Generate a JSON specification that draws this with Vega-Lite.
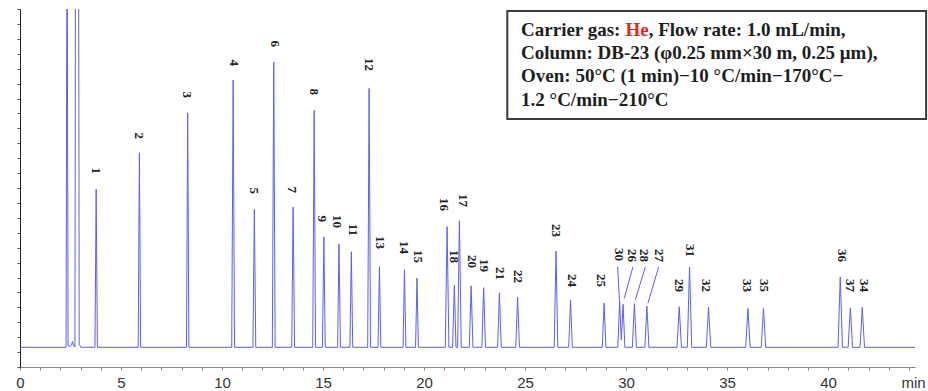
{
  "$schema": "https://vega.github.io/schema/vega-lite/v6.json",
  "width": 895,
  "height": 358,
  "autosize": {"type": "none"},
  "padding": {"left": 20, "top": 9, "right": 13, "bottom": 24},
  "background": "white",
  "config": {"view": {"stroke": null}},
  "datasets": {
    "trace": [
      {"t": 0, "s": 0.33}, {"t": 2.28, "s": 0.33}, {"t": 2.33, "s": 8}, {"t": 2.38, "s": 0.36},
      {"t": 2.48, "s": 0.34}, {"t": 2.55, "s": 0.37}, {"t": 2.6, "s": 0.43}, {"t": 2.66, "s": 0.35},
      {"t": 2.72, "s": 0.34}, {"t": 2.75, "s": 8}, {"t": 2.9, "s": 8}, {"t": 2.93, "s": 0.38}, {"t": 3.02, "s": 0.33},
      {"t": 3.71, "s": 0.33}, {"t": 3.77, "s": 2.98}, {"t": 3.83, "s": 0.33},
      {"t": 5.85, "s": 0.33}, {"t": 5.91, "s": 3.59}, {"t": 5.97, "s": 0.33},
      {"t": 8.24, "s": 0.33}, {"t": 8.3, "s": 4.26}, {"t": 8.36, "s": 0.33},
      {"t": 10.48, "s": 0.33}, {"t": 10.55, "s": 4.81}, {"t": 10.62, "s": 0.33},
      {"t": 11.53, "s": 0.33}, {"t": 11.6, "s": 2.64}, {"t": 11.67, "s": 0.33},
      {"t": 12.49, "s": 0.33}, {"t": 12.56, "s": 5.11}, {"t": 12.63, "s": 0.33},
      {"t": 13.45, "s": 0.33}, {"t": 13.52, "s": 2.68}, {"t": 13.59, "s": 0.33},
      {"t": 14.49, "s": 0.33}, {"t": 14.56, "s": 4.3}, {"t": 14.63, "s": 0.33},
      {"t": 14.97, "s": 0.33}, {"t": 15.04, "s": 2.18}, {"t": 15.11, "s": 0.33},
      {"t": 15.72, "s": 0.33}, {"t": 15.79, "s": 2.06}, {"t": 15.86, "s": 0.33},
      {"t": 16.33, "s": 0.33}, {"t": 16.4, "s": 1.93}, {"t": 16.47, "s": 0.33},
      {"t": 17.21, "s": 0.33}, {"t": 17.28, "s": 4.67}, {"t": 17.35, "s": 0.33},
      {"t": 17.72, "s": 0.33}, {"t": 17.79, "s": 1.68}, {"t": 17.86, "s": 0.33},
      {"t": 18.96, "s": 0.33}, {"t": 19.03, "s": 1.63}, {"t": 19.1, "s": 0.33},
      {"t": 19.58, "s": 0.33}, {"t": 19.65, "s": 1.49}, {"t": 19.72, "s": 0.33},
      {"t": 21.05, "s": 0.33}, {"t": 21.14, "s": 2.35}, {"t": 21.23, "s": 0.33},
      {"t": 21.41, "s": 0.33}, {"t": 21.5, "s": 1.37}, {"t": 21.58, "s": 0.33},
      {"t": 21.66, "s": 0.33}, {"t": 21.75, "s": 2.45}, {"t": 21.84, "s": 0.33},
      {"t": 22.24, "s": 0.33}, {"t": 22.33, "s": 1.36}, {"t": 22.42, "s": 0.33},
      {"t": 22.86, "s": 0.33}, {"t": 22.95, "s": 1.33}, {"t": 23.04, "s": 0.33},
      {"t": 23.64, "s": 0.33}, {"t": 23.73, "s": 1.24}, {"t": 23.82, "s": 0.33},
      {"t": 24.54, "s": 0.33}, {"t": 24.63, "s": 1.17}, {"t": 24.72, "s": 0.33},
      {"t": 26.44, "s": 0.33}, {"t": 26.53, "s": 1.94}, {"t": 26.62, "s": 0.33},
      {"t": 27.16, "s": 0.33}, {"t": 27.25, "s": 1.12}, {"t": 27.34, "s": 0.33},
      {"t": 28.82, "s": 0.33}, {"t": 28.91, "s": 1.07}, {"t": 29.0, "s": 0.33},
      {"t": 29.59, "s": 0.33}, {"t": 29.68, "s": 1.09}, {"t": 29.765, "s": 0.45}, {"t": 29.85, "s": 1.05}, {"t": 29.94, "s": 0.33},
      {"t": 30.31, "s": 0.33}, {"t": 30.41, "s": 1.06}, {"t": 30.51, "s": 0.33},
      {"t": 30.93, "s": 0.33}, {"t": 31.03, "s": 1.02}, {"t": 31.13, "s": 0.33},
      {"t": 32.52, "s": 0.33}, {"t": 32.63, "s": 1.01}, {"t": 32.74, "s": 0.33},
      {"t": 33.03, "s": 0.33}, {"t": 33.14, "s": 1.67}, {"t": 33.25, "s": 0.33},
      {"t": 33.97, "s": 0.33}, {"t": 34.08, "s": 1.0}, {"t": 34.19, "s": 0.33},
      {"t": 35.92, "s": 0.33}, {"t": 36.03, "s": 0.98}, {"t": 36.14, "s": 0.33},
      {"t": 36.69, "s": 0.33}, {"t": 36.8, "s": 0.98}, {"t": 36.91, "s": 0.33},
      {"t": 40.49, "s": 0.33}, {"t": 40.6, "s": 1.51}, {"t": 40.71, "s": 0.33},
      {"t": 40.99, "s": 0.33}, {"t": 41.1, "s": 0.99}, {"t": 41.21, "s": 0.33},
      {"t": 41.58, "s": 0.33}, {"t": 41.69, "s": 1.0}, {"t": 41.8, "s": 0.33},
      {"t": 44.3, "s": 0.33}
    ],
    "labels": [
      {"label": "1", "t": 3.77, "s": 3.234},
      {"label": "2", "t": 5.878, "s": 3.821},
      {"label": "3", "t": 8.288, "s": 4.508},
      {"label": "4", "t": 10.613, "s": 5.044},
      {"label": "5", "t": 11.603, "s": 2.899},
      {"label": "6", "t": 12.627, "s": 5.363},
      {"label": "7", "t": 13.483, "s": 2.916},
      {"label": "8", "t": 14.557, "s": 4.558},
      {"label": "9", "t": 14.943, "s": 2.43},
      {"label": "10", "t": 15.695, "s": 2.33},
      {"label": "11", "t": 16.467, "s": 2.195},
      {"label": "12", "t": 17.259, "s": 4.961},
      {"label": "13", "t": 17.803, "s": 1.978},
      {"label": "14", "t": 18.991, "s": 1.894},
      {"label": "15", "t": 19.703, "s": 1.743},
      {"label": "16", "t": 21.004, "s": 2.614},
      {"label": "17", "t": 21.93, "s": 2.681},
      {"label": "18", "t": 21.466, "s": 1.743},
      {"label": "20", "t": 22.375, "s": 1.659},
      {"label": "19", "t": 22.949, "s": 1.592},
      {"label": "21", "t": 23.775, "s": 1.458},
      {"label": "22", "t": 24.631, "s": 1.408},
      {"label": "23", "t": 26.546, "s": 2.179},
      {"label": "24", "t": 27.323, "s": 1.341},
      {"label": "25", "t": 28.773, "s": 1.341},
      {"label": "30", "t": 29.63, "s": 1.776},
      {"label": "26", "t": 30.291, "s": 1.76},
      {"label": "28", "t": 30.865, "s": 1.76},
      {"label": "27", "t": 31.607, "s": 1.76},
      {"label": "29", "t": 32.632, "s": 1.257},
      {"label": "31", "t": 33.176, "s": 1.843},
      {"label": "32", "t": 33.968, "s": 1.257},
      {"label": "33", "t": 35.982, "s": 1.257},
      {"label": "35", "t": 36.837, "s": 1.257},
      {"label": "36", "t": 40.682, "s": 1.76},
      {"label": "37", "t": 41.058, "s": 1.257},
      {"label": "34", "t": 41.751, "s": 1.257}
    ],
    "leaders": [
      {"t": 29.58, "s": 1.681, "t2": 29.68, "s2": 1.067},
      {"t": 30.34, "s": 1.681, "t2": 29.91, "s2": 1.151},
      {"t": 30.95, "s": 1.676, "t2": 30.455, "s2": 1.123},
      {"t": 31.61, "s": 1.676, "t2": 31.08, "s2": 1.067}
    ],
    "box": [{"t": 24.12, "t2": 44.85, "s": 5.966, "s2": 4.156}],
    "notes": [
      {"t": 24.8, "s": 5.552, "text": "Carrier gas: ", "part": "plain"},
      {"t": 29.97, "s": 5.552, "text": "He", "part": "red"},
      {"t": 31.12, "s": 5.552, "text": ", Flow rate: 1.0 mL/min,", "part": "plain"},
      {"t": 24.8, "s": 5.162, "text": "Column: DB-23 (φ0.25 mm×30 m, 0.25 μm),", "part": "plain"},
      {"t": 24.8, "s": 4.771, "text": "Oven: 50°C (1 min)−10 °C/min−170°C−", "part": "plain"},
      {"t": 24.8, "s": 4.381, "text": "1.2 °C/min−210°C", "part": "plain"}
    ]
  },
  "encoding": {
    "x": {
      "field": "t", "type": "quantitative",
      "scale": {"domain": [0, 44.3], "nice": false, "zero": false},
      "axis": {
        "values": [0,1,2,3,4,5,6,7,8,9,10,11,12,13,14,15,16,17,18,19,20,21,22,23,24,25,26,27,28,29,30,31,32,33,34,35,36,37,38,39,40,41,42,43,44],
        "labelExpr": "datum.value % 5 === 0 ? datum.label : ''",
        "labelOverlap": false, "labelFlush": false,
        "tickSize": 3, "tickColor": "#888", "domainColor": "#888",
        "labelFont": "Liberation Sans", "labelFontSize": 15, "labelColor": "#333", "labelPadding": 5,
        "grid": false,
        "title": "min", "titleX": 893, "titleY": 8, "titleBaseline": "top", "titleAlign": "center",
        "titleFont": "Liberation Sans", "titleFontSize": 15, "titleFontWeight": "normal", "titleColor": "#333"
      }
    },
    "y": {
      "field": "s", "type": "quantitative",
      "scale": {"domain": [0, 6], "nice": false, "zero": false},
      "axis": {
        "values": [0,0.25,0.5,0.75,1,1.25,1.5,1.75,2,2.25,2.5,2.75,3,3.25,3.5,3.75,4,4.25,4.5,4.75,5,5.25,5.5,5.75,6],
        "labels": false, "tickSize": 3, "tickColor": "#555", "domainColor": "#222", "grid": false, "title": null
      }
    }
  },
  "layer": [
    {
      "data": {"name": "trace"},
      "mark": {"type": "line", "clip": true, "color": "#5e5ef0", "strokeWidth": 1, "interpolate": "linear"}
    },
    {
      "data": {"name": "leaders"},
      "mark": {"type": "rule", "color": "#5e5ef0", "strokeWidth": 1},
      "encoding": {
        "x2": {"field": "t2"},
        "y2": {"field": "s2"}
      }
    },
    {
      "data": {"name": "labels"},
      "mark": {"type": "text", "angle": 90, "align": "right", "baseline": "middle", "font": "Liberation Serif", "fontWeight": "bold", "fontSize": 13, "color": "#222"},
      "encoding": {
        "text": {"field": "label"}
      }
    },
    {
      "data": {"name": "box"},
      "mark": {"type": "rect", "fill": "white", "stroke": "#3a3a3a", "strokeWidth": 2},
      "encoding": {
        "x2": {"field": "t2"},
        "y2": {"field": "s2"}
      }
    },
    {
      "data": {"name": "notes"},
      "mark": {"type": "text", "align": "left", "baseline": "alphabetic", "font": "Liberation Serif", "fontWeight": "bold", "fontSize": 19},
      "encoding": {
        "text": {"field": "text"},
        "color": {"field": "part", "type": "nominal", "scale": {"domain": ["plain", "red"], "range": ["#1e1e1e", "#ff1a1a"]}, "legend": null}
      }
    }
  ]
}
